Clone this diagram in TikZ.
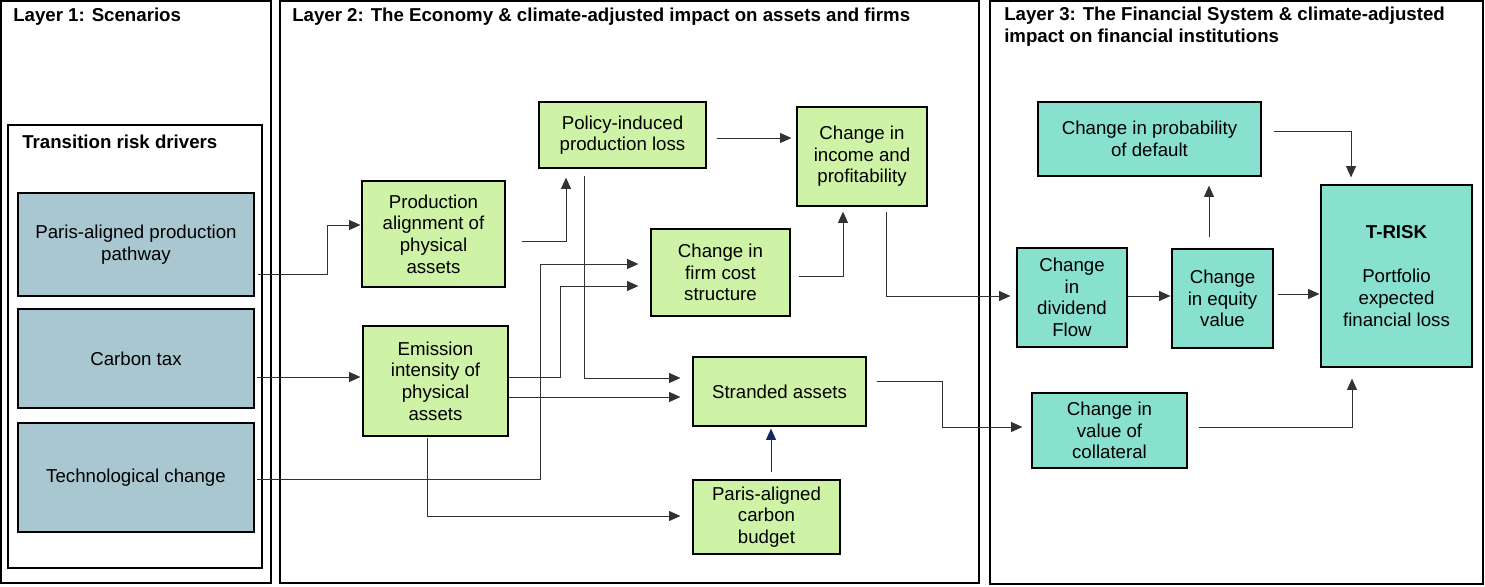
\documentclass[tikz,border=0pt]{standalone}
\usepackage{fontspec}
\setmainfont{Liberation Sans}
\usetikzlibrary{calc,arrows.meta}
\definecolor{bluebox}{RGB}{169,199,208}
\definecolor{greenbox}{RGB}{206,242,166}
\definecolor{tealbox}{RGB}{136,224,207}
\definecolor{navyarr}{RGB}{20,40,100}
\definecolor{linegray}{RGB}{50,50,50}
\begin{document}
\begin{tikzpicture}[x=0.75pt,y=-0.75pt,
  box/.style={draw=black,line width=0.9pt,inner sep=0pt,align=center,
    font=\fontsize{14}{16.2}\selectfont},
  bluebx/.style={box,fill=bluebox},
  greenbx/.style={box,fill=greenbox},
  tealbx/.style={box,fill=tealbox},
  sz/.style 2 args={minimum width=#1*0.75pt,minimum height=#2*0.75pt},
  arr/.style={draw=linegray,line width=0.75pt,-{Triangle[length=8.5pt,width=7.5pt]}},
  layer/.style={draw=black,line width=0.9pt},
  head/.style={inner sep=0pt,align=left,font=\fontsize{14}{16.5}\selectfont\bfseries}
]
\useasboundingbox (0,0) rectangle (1485,586);
% layer frames
\draw[layer] (1,1) rectangle (271,583);
\draw[layer] (280,1) rectangle (979,583);
\draw[layer] (990,1) rectangle (1483,584);
\draw[layer] (8,125) rectangle (262,568);
% headers
\node[head,anchor=west] (h1) at (13,17) {Layer 1: Scenarios};
\node[head,anchor=west] (h2) at (292,17) {Layer 2: The Economy \& climate-adjusted impact on assets and firms};
\node[head,anchor=north west] (h3) at (1004,7) {Layer 3: The Financial System \& climate-adjusted\\impact on financial institutions};
\node[head,anchor=west] (h4) at (22,142) {Transition risk drivers};
% layer 1 boxes
\node[bluebx,sz={236}{103}] (pap) at (136,244.5) {Paris-aligned production\\pathway};
\node[bluebx,sz={236}{99}] (ctax) at (136,358.5) {Carbon tax};
\node[bluebx,sz={236}{109}] (tech) at (136,477.5) {Technological change};
% layer 2 boxes
\node[greenbx,sz={143}{106}] (palign) at (433.5,234) {Production\\alignment of\\physical\\assets};
\node[greenbx,sz={145}{110}] (emis) at (435.5,381) {Emission\\intensity of\\physical\\assets};
\node[greenbx,sz={167}{66}] (policy) at (622.5,135) {Policy-induced\\production loss};
\node[greenbx,sz={130}{99}] (income) at (862,156.5) {Change in\\income and\\profitability};
\node[greenbx,sz={139}{87}] (cost) at (720.5,272.5) {Change in\\firm cost\\structure};
\node[greenbx,sz={173}{69}] (strand) at (779.5,391.5) {Stranded assets};
\node[greenbx,sz={147}{74}] (budget) at (766.5,517) {Paris-aligned\\carbon\\budget};
% layer 3 boxes
\node[tealbx,sz={223}{74}] (pd) at (1149.5,139) {Change in probability\\of default};
\node[tealbx,sz={110}{99}] (div) at (1072,297.5) {Change\\in\\dividend\\Flow};
\node[tealbx,sz={101}{99}] (eq) at (1222.5,298.5) {Change\\in equity\\value};
\node[tealbx,sz={151}{182}] (trisk) at (1396.5,276) {\textbf{T-RISK}\\[16.8pt]Portfolio\\expected\\financial loss};
\node[tealbx,sz={155}{75}] (coll) at (1109.5,430.5) {Change in\\value of\\collateral};
% connectors
\draw[arr] ($(pap.east)+(3,29.5)$) -| ($(palign.west)+(-34,-9)$) -- ($(palign.west)+(-1,-9)$);
\draw[arr] ($(ctax.east)+(2,18.5)$) -- ($(emis.west)+(-2,-4)$);
\draw[arr] ($(tech.east)+(2,1.5)$) -| ($(cost.west)+(-110,-8.5)$) -- ($(cost.west)+(-12,-8.5)$);
\draw[arr] ($(emis.east)+(0,-4)$) -| ($(cost.west)+(-90,13.5)$) -- ($(cost.west)+(-12,13.5)$);
\draw[arr] ($(emis.east)+(0,16)$) -- ($(strand.west)+(-12,5.5)$);
\draw[arr] ($(palign.east)+(16,7)$) -| ($(policy.south)+(-56.5,9)$);
\draw[arr] ($(policy.south)+(-38.5,7)$) |- ($(strand.west)+(-12,-13.5)$);
\draw[arr] ($(emis.south)+(-8.5,1)$) |- ($(budget.west)+(-12,-1)$);
\draw[arr,draw=navyarr,-{Triangle[length=8.5pt,width=7.5pt,fill=navyarr]}] ($(budget.north)+(4.5,-7)$) -- ($(strand.south)+(-8.5,2)$);
\draw[arr] ($(policy.east)+(10,3)$) -- ($(income.west)+(-5,-18.5)$);
\draw[arr] ($(cost.east)+(8,3.5)$) -| ($(income.south)+(-19,5)$);
\draw[arr] ($(income.south)+(24,5)$) |- ($(div.west)+(-6,-1.5)$);
\draw[arr] ($(strand.east)+(10,-10.5)$) -| ($(coll.west)+(-89,-3.5)$) -- ($(coll.west)+(-9,-3.5)$);
\draw[arr] ($(div.east)+(0,-1.5)$) -- ($(eq.west)+(-1,-2.5)$);
\draw[arr] ($(eq.north)+(-13.5,-11)$) -- ($(pd.south)+(59.5,9)$);
\draw[arr] ($(eq.east)+(4,-4.5)$) -- ($(trisk.west)+(-1,18)$);
\draw[arr] ($(pd.east)+(12,-8)$) -| ($(trisk.north)+(-45.5,-7)$);
\draw[arr] ($(coll.east)+(11,-3.5)$) -| ($(trisk.south)+(-44.5,11)$);
\end{tikzpicture}
\end{document}
